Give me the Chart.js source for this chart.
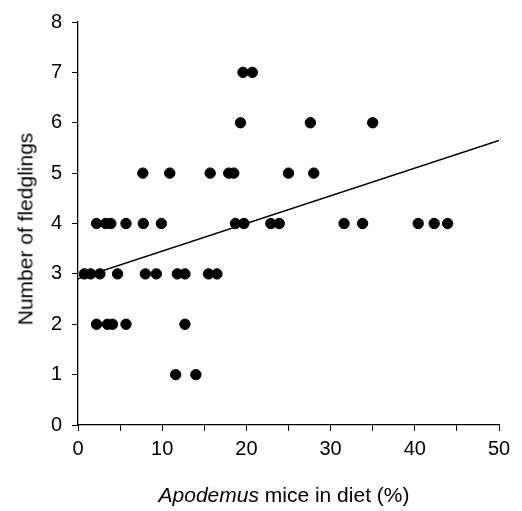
<!DOCTYPE html>
<html lang="en">
<head>
    <meta charset="UTF-8">
    <title>Fledglings vs Apodemus in diet</title>
    <script src="https://cdn.jsdelivr.net/npm/chart.js"></script>
    <style>
        body {
            margin: 0;
            padding: 0;
            background: #fff;
        }
        .wrap {
            width: 522px;
            height: 511px;
            position: relative;
        }
        .xtitle, .ytitle {
            position: absolute;
            font-family: 'Liberation Sans', Arial, sans-serif;
            font-size: 21px;
            color: #000;
            white-space: nowrap;
            line-height: 1;
        }
        .xtitle {
            left: 84px;
            width: 400px;
            top: 484px;
            text-align: center;
        }
        .ytitle {
            left: 25px;
            top: 229px;
            transform: translate(-50%, -50%) rotate(-90deg);
        }
    </style>
</head>
<body>
    <div class="wrap">
        <canvas id="scatter" width="522" height="511"></canvas>
        <div class="ytitle">Number of fledglings</div>
        <div class="xtitle"><i>Apodemus</i> mice in diet (%)</div>
    </div>
    <script>
    // points: % Apodemus in diet, number of fledglings
    const dietPct = [
        0.75, 1.5, 2.6, 4.7, 8.0, 9.3, 11.8, 12.7, 15.5, 16.5,
        2.2, 3.3, 3.9, 5.7, 7.75, 9.9, 18.7, 19.7, 22.9, 23.9, 31.6, 33.8, 40.4, 42.3, 43.9,
        7.7, 10.9, 15.7, 17.9, 18.5, 25.0, 28.0,
        19.3, 27.6, 35.0,
        19.6, 20.7,
        2.2, 3.5, 4.1, 5.7, 12.7,
        11.6, 14.0
    ];
    const fledglings = [
        3, 3, 3, 3, 3, 3, 3, 3, 3, 3,
        4, 4, 4, 4, 4, 4, 4, 4, 4, 4, 4, 4, 4, 4, 4,
        5, 5, 5, 5, 5, 5, 5,
        6, 6, 6,
        7, 7,
        2, 2, 2, 2, 2,
        1, 1
    ];
    // fitted regression line end points
    const fitX = [0, 50];
    const fitY = [2.9, 5.65];
    const xTicks = [0, 10, 20, 30, 40, 50];

    const font = { family: "'Liberation Sans', Arial, sans-serif", size: 20 };

    new Chart(document.getElementById('scatter'), {
        type: 'scatter',
        data: {
            datasets: [{
                label: 'nests',
                data: dietPct.map((x, i) => ({ x: x, y: fledglings[i] })),
                backgroundColor: '#000',
                borderColor: '#000',
                pointRadius: 5.2,
                pointHoverRadius: 5.2,
                order: 1
            }, {
                label: 'fit',
                type: 'line',
                data: fitX.map((x, i) => ({ x: x, y: fitY[i] })),
                borderColor: '#000',
                borderWidth: 1.5,
                pointRadius: 0,
                fill: false,
                order: 2
            }]
        },
        options: {
            responsive: false,
            animation: false,
            layout: { padding: { left: 0, top: 17, right: 23, bottom: 0 } },
            plugins: {
                legend: { display: false },
                tooltip: { enabled: false }
            },
            scales: {
                x: {
                    type: 'linear',
                    min: 0,
                    max: 50,
                    afterFit: s => { s.height = 86; },
                    ticks: {
                        stepSize: 5,
                        color: '#000',
                        font: font,
                        padding: 6,
                        maxRotation: 0,
                        autoSkip: false,
                        callback: v => xTicks.includes(v) ? v : ''
                    },
                    grid: {
                        drawOnChartArea: false,
                        color: '#000',
                        tickLength: 6,
                        tickColor: '#000'
                    },
                    border: { color: '#000', width: 1.3 }
                },
                y: {
                    min: 0,
                    max: 8,
                    afterFit: s => { s.width = 78; },
                    ticks: {
                        stepSize: 1,
                        color: '#000',
                        font: font,
                        padding: 10
                    },
                    grid: {
                        drawOnChartArea: false,
                        color: '#000',
                        tickLength: 6,
                        tickColor: '#000'
                    },
                    border: { color: '#000', width: 1.3 }
                }
            }
        }
    });
    </script>
</body>
</html>
